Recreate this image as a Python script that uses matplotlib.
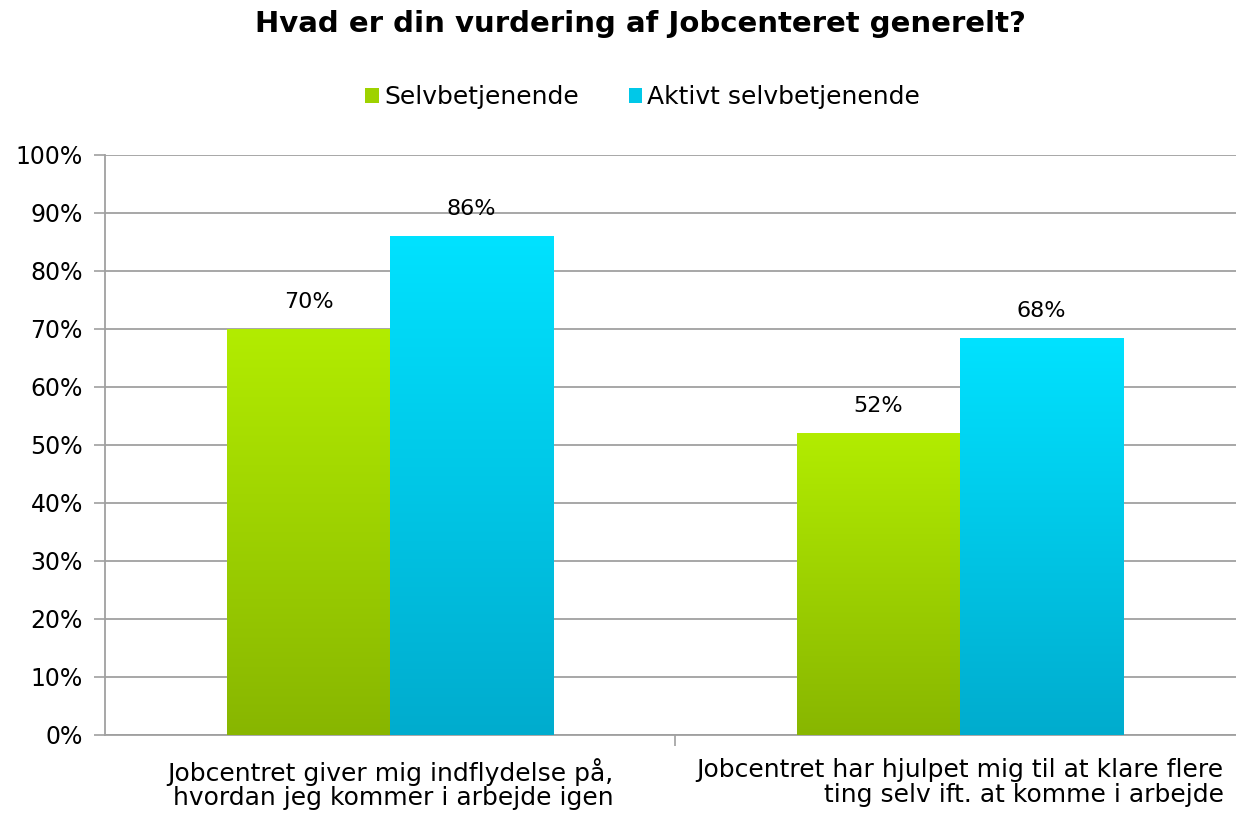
import numpy as np
import matplotlib.pyplot as plt
from matplotlib.patches import Patch
from matplotlib.colors import LinearSegmentedColormap

# Data
categories = ['Jobcentret giver mig indflydelse på,\nhvordan jeg kommer i arbejde igen',
              'Jobcentret har hjulpet mig til at klare flere\nting selv ift. at komme i arbejde']
series_names = ['Selvbetjenende', 'Aktivt selvbetjenende']
selv = [70, 52]
aktivt = [86, 68.4]
labels_selv = ['70%', '52%']
labels_aktivt = ['86%', '68%']
yticks = [0, 10, 20, 30, 40, 50, 60, 70, 80, 90, 100]

# Gradient colours (top -> bottom)
green_top, green_bot = '#b2ec00', '#88b600'
cyan_top, cyan_bot = '#00e2ff', '#00acce'

fig = plt.figure(figsize=(12.36, 8.15), dpi=100)
ax = fig.add_axes([105/1236, 80/815, 1140/1236, 580/815])

x = np.arange(len(categories))
w = 0.286
grad = np.linspace(1, 0, 256).reshape(-1, 1)


def gradient_bars(xs, vals, top, bot):
    cmap = LinearSegmentedColormap.from_list('g', [bot, top])
    bars = ax.bar(xs, vals, w, facecolor='none', edgecolor='none', zorder=3)
    for b in bars:
        x0, y0 = b.get_x(), b.get_y()
        ax.imshow(grad, cmap=cmap, aspect='auto', zorder=3,
                  extent=[x0, x0 + b.get_width(), y0, y0 + b.get_height()])
    return bars


b1 = gradient_bars(x - w/2, selv, green_top, green_bot)
b2 = gradient_bars(x + w/2, aktivt, cyan_top, cyan_bot)

for bars, labs in ((b1, labels_selv), (b2, labels_aktivt)):
    for b, lab in zip(bars, labs):
        ax.text(b.get_x() + b.get_width()/2, b.get_height() + 3.0, lab,
                ha='center', va='bottom', fontsize=16, color='#000000', zorder=4)

ax.set_xlim(-0.5, 1.5)
ax.set_ylim(0, 100)
ax.set_yticks(yticks)
ax.set_yticklabels([f'{t}%' for t in yticks], fontsize=17)
ax.yaxis.grid(True, color='#a0a0a0', linewidth=1.3, zorder=0)
ax.set_axisbelow(True)

ax.set_xticks([0.5])
ax.set_xticklabels([])
ax.tick_params(axis='x', length=8, width=1.2, color='#a0a0a0')
ax.tick_params(axis='y', length=8, width=1.2, color='#a0a0a0', pad=8)
for s in ('top', 'right'):
    ax.spines[s].set_visible(False)
for s in ('left', 'bottom'):
    ax.spines[s].set_color('#a0a0a0')
    ax.spines[s].set_linewidth(1.3)

for i, cat in enumerate(categories):
    ax.text(i, -3.9, cat, ha='center', va='top', fontsize=18,
            multialignment='right', linespacing=1.05)

fig.text(0.518, 0.970, 'Hvad er din vurdering af Jobcenteret generelt?',
         ha='center', va='center', fontsize=21, fontweight='bold')

handles = [Patch(facecolor='#9ed200', edgecolor='none'),
           Patch(facecolor='#00c8e8', edgecolor='none')]
fig.legend(handles, series_names, loc='center', bbox_to_anchor=(0.52, 0.881),
           ncol=2, frameon=False, fontsize=18, handlelength=0.55, handleheight=0.55,
           handletextpad=0.2, columnspacing=2.0)

fig.savefig('out.png', dpi=100)
